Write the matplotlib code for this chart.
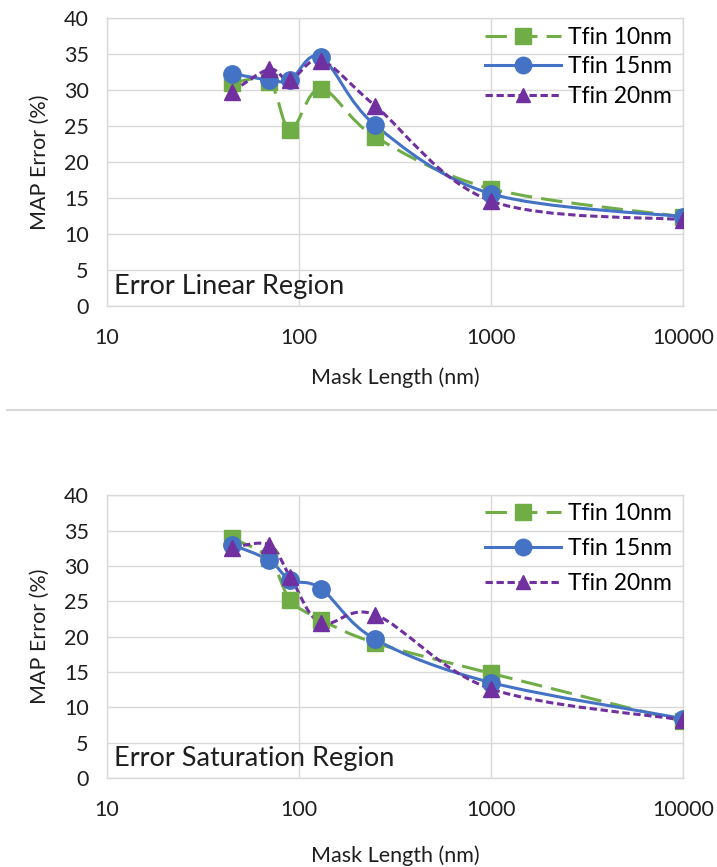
import numpy as np
import matplotlib
matplotlib.use("Agg")
import matplotlib.pyplot as plt
from matplotlib.path import Path
from matplotlib.patches import PathPatch
from matplotlib.lines import Line2D

plt.rcParams['font.family'] = ['Lato', 'DejaVu Sans']

mask_length = [45, 70, 90, 130, 250, 1000, 10000]
series_names = ["Tfin 10nm", "Tfin 15nm", "Tfin 20nm"]

linear_10 = [31.0, 31.2, 24.5, 30.2, 23.5, 16.3, 12.4]
linear_15 = [32.3, 31.4, 31.4, 34.6, 25.1, 15.6, 12.4]
linear_20 = [29.8, 32.9, 31.4, 34.1, 27.8, 14.6, 12.0]

sat_10 = [33.9, 31.1, 25.2, 22.4, 19.1, 14.8, 8.0]
sat_15 = [33.0, 30.8, 28.0, 26.8, 19.6, 13.5, 8.4]
sat_20 = [32.6, 33.0, 28.5, 21.9, 23.1, 12.6, 8.2]

panel_titles = ["Error Linear Region", "Error Saturation Region"]
x_ticks = [10, 100, 1000, 10000]
y_ticks = [0, 5, 10, 15, 20, 25, 30, 35, 40]

colors = ["#70AD47", "#4472C4", "#7030A0"]
markers = ["s", "o", "^"]
dashes = [(7, 3), None, (2.4, 1.2)]
msizes = [12, 12.5, 11]


def smooth_path(xs, ys):
    # Excel-like smoothed line: cubic Bezier through points (Catmull-Rom tangents in log-x space)
    lx = np.log10(np.asarray(xs, float))
    y = np.asarray(ys, float)
    n = len(lx)
    verts = [(xs[0], ys[0])]
    codes = [Path.MOVETO]
    for i in range(n - 1):
        p0 = max(i - 1, 0)
        p3 = min(i + 2, n - 1)
        c1x = lx[i] + (lx[i + 1] - lx[p0]) / 6.0
        c1y = y[i] + (y[i + 1] - y[p0]) / 6.0
        c2x = lx[i + 1] - (lx[p3] - lx[i]) / 6.0
        c2y = y[i + 1] - (y[p3] - y[i]) / 6.0
        verts += [(10 ** c1x, c1y), (10 ** c2x, c2y), (xs[i + 1], ys[i + 1])]
        codes += [Path.CURVE4, Path.CURVE4, Path.CURVE4]
    return Path(verts, codes)


fig = plt.figure(figsize=(7.17, 8.67), dpi=100)
ax1 = fig.add_axes([0.149, 0.647, 0.804, 0.332])
ax2 = fig.add_axes([0.149, 0.1027, 0.804, 0.326])

grid_c = "#d9d9d9"
txt_c = "#1f1f1f"
panel_cfg = [
    (ax1, [linear_10, linear_15, linear_20], panel_titles[0], 14, 0.38, 1.01),
    (ax2, [sat_10, sat_15, sat_20], panel_titles[1], 18, 0.62, 1.015),
]
for ax, data, title, xlpad, lspace, ly in panel_cfg:
    ax.set_xscale("log")
    ax.set_xlim(10, 10000)
    ax.set_ylim(0, 40)
    ax.set_xticks(x_ticks)
    ax.set_xticklabels([str(t) for t in x_ticks])
    ax.xaxis.set_minor_locator(matplotlib.ticker.NullLocator())
    ax.set_yticks(y_ticks)
    ax.grid(True, color=grid_c, linewidth=1.0)
    ax.set_axisbelow(True)
    for s in ax.spines.values():
        s.set_color(grid_c)
        s.set_linewidth(1.0)
    ax.tick_params(axis="x", length=0, pad=16, labelsize=15.5, labelcolor=txt_c)
    ax.tick_params(axis="y", length=0, pad=13, labelsize=15.5, labelcolor=txt_c)
    ax.set_xlabel("Mask Length (nm)", fontsize=15.5, color=txt_c, labelpad=xlpad)
    ax.set_ylabel("MAP Error (%)", fontsize=15.5, color=txt_c, labelpad=10)

    handles = []
    for vals, col, mk, dsh, ms, name in zip(data, colors, markers, dashes, msizes, series_names):
        patch = PathPatch(smooth_path(mask_length, vals), facecolor="none", edgecolor=col,
                          linewidth=2.2, zorder=2)
        if dsh is not None:
            patch.set_linestyle((0, dsh))
        ax.add_patch(patch)
        ax.plot(mask_length, vals, linestyle="none", marker=mk, markersize=ms,
                color=col, zorder=3)
        h = Line2D([], [], color=col, linewidth=2.2, marker=mk, markersize=ms * 0.95)
        if dsh is not None:
            h.set_dashes(dsh)
        handles.append(h)

    ax.legend(handles, series_names, loc="upper right", frameon=False, fontsize=16.5,
              handlelength=3.3, handletextpad=0.3, labelspacing=lspace,
              borderaxespad=0.1, bbox_to_anchor=(1.0, ly))
    ax.text(0.013, 0.025, title, transform=ax.transAxes, fontsize=19.5,
            color=txt_c, ha="left", va="bottom")

fig.add_artist(Line2D([0.01, 1.0], [1 - 410 / 867, 1 - 410 / 867], transform=fig.transFigure,
                      color="#d9d9d9", linewidth=1.5))

fig.savefig("out.png", dpi=100, facecolor="white")
